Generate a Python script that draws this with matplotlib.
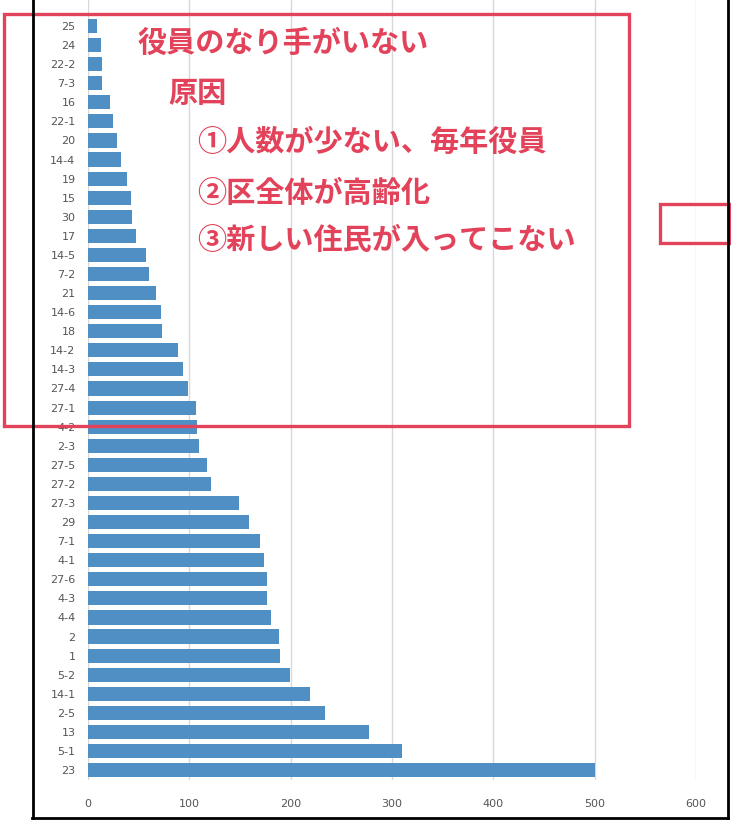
import matplotlib.pyplot as plt
from matplotlib.lines import Line2D
from matplotlib.patches import Rectangle

plt.rcParams['font.family'] = ['Noto Sans CJK JP', 'DejaVu Sans']

# bars listed bottom to top
labels = ['23', '5-1', '13', '2-5', '14-1', '5-2', '1', '2', '4-4', '4-3',
          '27-6', '4-1', '7-1', '29', '27-3', '27-2', '27-5', '2-3', '4-2', '27-1',
          '27-4', '14-3', '14-2', '18', '14-6', '21', '7-2', '14-5', '17', '30',
          '15', '19', '14-4', '20', '22-1', '16', '7-3', '22-2', '24', '25']
values = [500, 310, 277, 234, 219, 199, 189, 188, 181, 177,
          177, 174, 170, 159, 149, 121, 117, 110, 108, 107,
          99, 94, 89, 73, 72, 67, 60, 57, 47, 43,
          42, 38, 33, 29, 25, 22, 14, 14, 13, 9]
xticks = [0, 100, 200, 300, 400, 500, 600]

notes = ['役員のなり手がいない', '原因', '①人数が少ない、毎年役員',
         '②区全体が高齢化', '③新しい住民が入ってこない']

W, H = 731, 826
red = '#e2435b'

fig = plt.figure(figsize=(W / 100, H / 100), dpi=100)
fig.patch.set_facecolor('white')

ax = fig.add_axes([88 / W, (H - 780) / H, 608 / W, 780 / H])
ax.barh(range(len(values)), values, height=0.74, color='#4f8fc4')
ax.set_yticks(range(len(labels)))
ax.set_yticklabels(labels, fontsize=8, color='#555555', family='DejaVu Sans')
ax.set_xticks(xticks)
ax.set_xticklabels([str(t) for t in xticks], fontsize=8, color='#555555',
                   family='DejaVu Sans')
ax.tick_params(length=0)
ax.tick_params(axis='y', pad=9)
ax.tick_params(axis='x', pad=14)
ax.set_xlim(0, 600)
ax.set_ylim(-0.52, 39 + 26 / 19.08)
for s in ax.spines.values():
    s.set_visible(False)
ax.grid(axis='x', color='#d8d8d8', linewidth=1)
ax.set_axisbelow(True)

# scanned page frame
def px(x, y):
    return x / W, 1 - y / H

fig.add_artist(Line2D([px(33, 0)[0], px(33, 818)[0]], [px(33, 0)[1], px(33, 818)[1]],
                      color='black', linewidth=2))
fig.add_artist(Line2D([px(32, 818)[0], px(728, 818)[0]], [px(32, 818)[1], px(728, 818)[1]],
                      color='black', linewidth=2))
fig.add_artist(Line2D([px(728, 0)[0], px(728, 818)[0]], [px(728, 0)[1], px(728, 818)[1]],
                      color='black', linewidth=2))

# red callout boxes
fig.add_artist(Rectangle(px(4, 426), 625 / W, 412 / H, fill=False,
                         edgecolor=red, linewidth=2.4))
fig.add_artist(Rectangle(px(660, 243), 70 / W, 39 / H, fill=False,
                         edgecolor=red, linewidth=2.4))

note_pos = [(138, 43), (168, 93), (197, 142), (197, 193), (197, 240)]
for t, (x, y) in zip(notes, note_pos):
    fig.text(x / W, 1 - y / H, t, fontsize=21, color=red, fontweight='bold',
             ha='left', va='center')

fig.savefig('out.png', dpi=100)
